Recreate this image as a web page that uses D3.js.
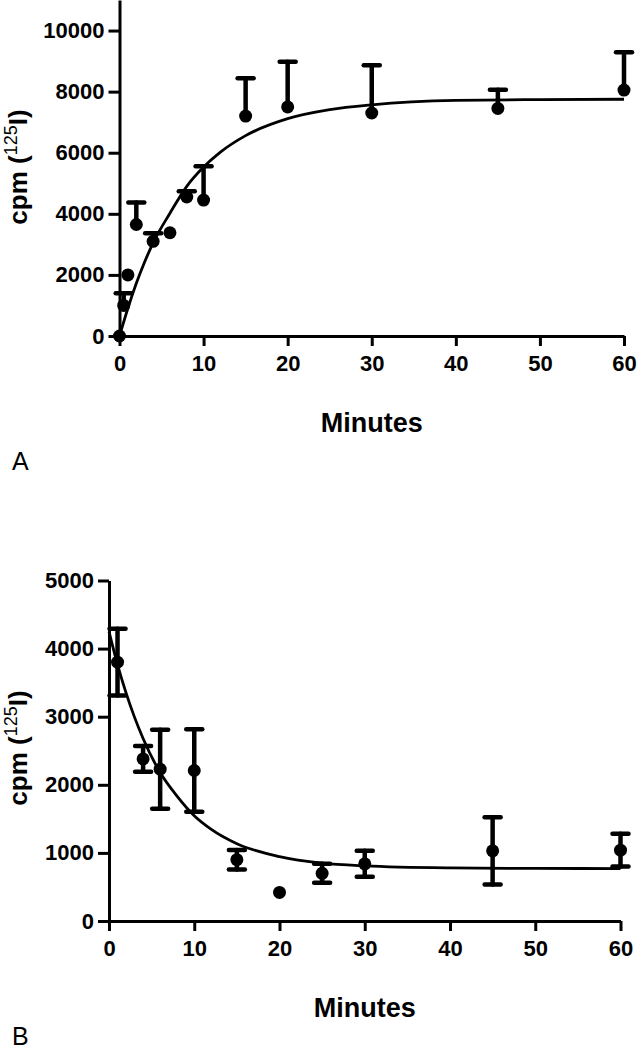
<!DOCTYPE html>
<html>
<head>
<meta charset="utf-8">
<script src="https://cdn.jsdelivr.net/npm/d3@7"></script>
<style>
body { margin: 0; background: #fff; }
text { font-family: "Liberation Sans", Arial, sans-serif; fill: #000; }
.axis path, .axis line { stroke: #000; stroke-width: 3; }
.axis text { font-size: 22px; font-weight: bold; }
</style>
</head>
<body>
<script>
// panel A - association
var timeA = [0, 0.5, 1, 2, 4, 6, 8, 10, 15, 20, 30, 45, 60];
var cpmA = [0, 1000, 2000, 3650, 3100, 3380, 4550, 4450, 7200, 7500, 7300, 7450, 8050];
var errA = [0, 400, 0, 720, 260, 0, 190, 1110, 1240, 1480, 1560, 610, 1240];
var fitTimeA = [0, 1, 2, 3, 4, 6, 8, 10, 12, 15, 20, 25, 30, 40, 50, 60];
var fitA = [0, 910, 1725, 2430, 3050, 4020, 4900, 5530, 6020, 6560, 7115, 7410, 7570, 7715, 7740, 7750];

// panel B - dissociation
var timeB = [1, 4, 6, 10, 15, 20, 25, 30, 45, 60];
var cpmB = [3800, 2380, 2230, 2210, 900, 420, 700, 840, 1030, 1040];
var errB = [490, 190, 580, 605, 142, 0, 140, 190, 495, 240];
var fitTimeB = [0, 1, 2, 3, 4, 6, 8, 10, 12, 15, 20, 25, 30, 40, 50, 60];
var fitB = [4250, 3765, 3350, 2990, 2680, 2180, 1830, 1545, 1345, 1135, 945, 850, 810, 780, 772, 770];

var xTicks = [0, 10, 20, 30, 40, 50, 60];
var yTicksA = [0, 2000, 4000, 6000, 8000, 10000];
var yTicksB = [0, 1000, 2000, 3000, 4000, 5000];

var w = 638;
var h = 1050;

var svg = d3.select("body")
			.append("svg")
			.attr("width", w)
			.attr("height", h);

function drawPanel(p){
	var xScale = d3.scaleLinear()
					.domain([0, 60])
					.range([p.left, p.right]);
	var yScale = d3.scaleLinear()
					.domain([0, p.ymax])
					.range([p.bottom, p.top]);

	var line = d3.line()
				.x(function(d){ return xScale(d[0]); })
				.y(function(d){ return yScale(d[1]); })
				.curve(d3.curveMonotoneX);

	svg.append("path")
		.datum(d3.zip(p.fitTime, p.fit))
		.attr("d", line)
		.attr("fill", "none")
		.attr("stroke", "#000")
		.attr("stroke-width", 2.8);

	var pts = d3.zip(p.time, p.cpm, p.err);
	var bars = svg.append("g")
				.attr("stroke", "#000")
				.attr("stroke-width", 4.5)
				.attr("stroke-linecap", "round");
	pts.forEach(function(d){
		if(d[2] <= 0) return;
		var lo = p.both ? d[1] - d[2] : d[1];
		var hi = d[1] + d[2];
		var x = xScale(d[0]);
		bars.append("line")
			.attr("x1", x).attr("x2", x)
			.attr("y1", yScale(lo)).attr("y2", yScale(hi));
		bars.append("line")
			.attr("x1", x - 8).attr("x2", x + 8)
			.attr("y1", yScale(hi)).attr("y2", yScale(hi));
		if(p.both){
			bars.append("line")
				.attr("x1", x - 8).attr("x2", x + 8)
				.attr("y1", yScale(lo)).attr("y2", yScale(lo));
		}
	});

	svg.append("g")
		.selectAll("circle")
		.data(pts)
		.enter()
		.append("circle")
		.attr("cx", function(d){ return xScale(d[0]); })
		.attr("cy", function(d){ return yScale(d[1]); })
		.attr("r", 6.5);

	var xAxis = d3.axisBottom(xScale)
				.tickValues(xTicks)
				.tickSize(10)
				.tickSizeOuter(0)
				.tickPadding(9);
	var yAxis = d3.axisLeft(yScale)
				.tickValues(p.yTicks)
				.tickSize(11)
				.tickSizeOuter(0)
				.tickPadding(4)
				.tickFormat(d3.format("d"));

	svg.append("g")
		.attr("class", "axis")
		.attr("transform", "translate(0," + p.bottom + ")")
		.call(xAxis);
	svg.append("g")
		.attr("class", "axis")
		.attr("transform", "translate(" + p.left + ",0)")
		.call(yAxis);

	svg.append("text")
		.attr("x", (p.left + p.right) / 2)
		.attr("y", p.bottom + 96)
		.attr("text-anchor", "middle")
		.style("font-size", "27px")
		.style("font-weight", "bold")
		.text("Minutes");

	var yl = svg.append("text")
		.attr("transform", "translate(27," + p.labelY + ") rotate(-90)")
		.attr("text-anchor", "middle")
		.style("font-size", "26px")
		.style("font-weight", "bold");
	yl.append("tspan").text("cpm (");
	yl.append("tspan")
		.attr("dy", -10)
		.style("font-size", "18px")
		.style("font-weight", "normal")
		.text("125");
	yl.append("tspan")
		.attr("dy", 10)
		.text("I)");

	svg.append("text")
		.attr("x", 12)
		.attr("y", p.letterY)
		.style("font-size", "25px")
		.text(p.letter);
}

drawPanel({
	time: timeA, cpm: cpmA, err: errA, fitTime: fitTimeA, fit: fitA,
	yTicks: yTicksA, ymax: 11000, both: false,
	left: 119.5, right: 624, top: 0, bottom: 336,
	labelY: 167, letter: "A", letterY: 470
});

drawPanel({
	time: timeB, cpm: cpmB, err: errB, fitTime: fitTimeB, fit: fitB,
	yTicks: yTicksB, ymax: 5000, both: true,
	left: 109, right: 620.5, top: 580.5, bottom: 921,
	labelY: 748, letter: "B", letterY: 1045
});
</script>
</body>
</html>
